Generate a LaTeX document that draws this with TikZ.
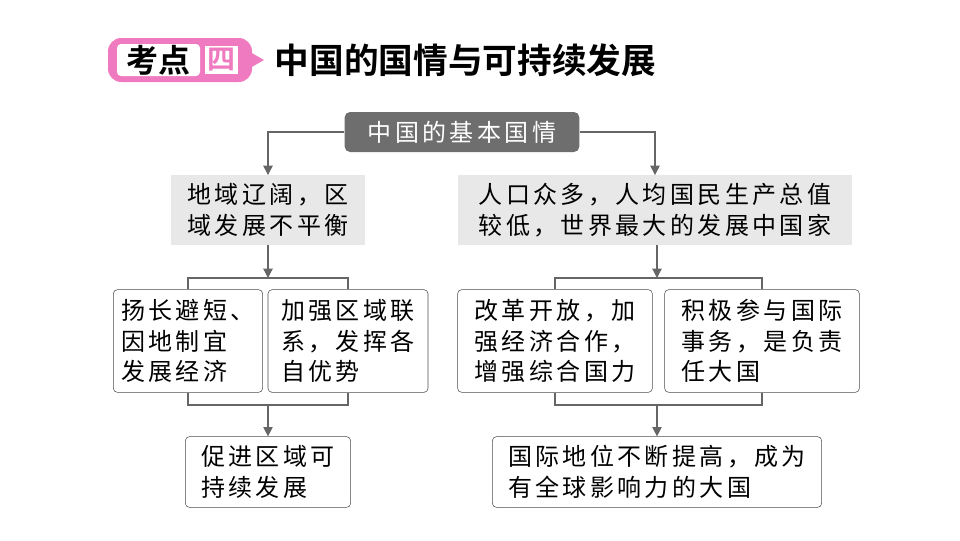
\documentclass[tikz,border=0pt]{standalone}
\usepackage{fontspec}
\setmainfont{Noto Sans CJK SC}[LetterSpace=14]
\newfontfamily\headfont{Noto Sans CJK SC}[BoldFont={* Bold}]
\usetikzlibrary{arrows.meta}
\definecolor{topgray}{HTML}{6E6E6E}
\definecolor{boxgray}{HTML}{E8E8E8}
\definecolor{headpink}{HTML}{F07AC0}
\tikzset{
  item/.style={draw=black!70,rounded corners=3pt,align=left,font=\fontsize{18}{23}\selectfont,inner sep=0pt},
  gbox/.style={fill=boxgray,align=left,font=\fontsize{18}{23}\selectfont,inner sep=0pt},
  conn/.style={draw=black!60,line width=0.9pt},
  arr/.style={conn,-{Triangle[length=7pt,width=7pt]}}
}
\begin{document}
\begin{tikzpicture}[x=0.75pt,y=-0.75pt]
\useasboundingbox (0,0) rectangle (960,540);
% header
\fill[headpink,rounded corners=10pt] (108,38) rectangle (252,82);
\fill[headpink] (250,52) -- (264,60) -- (250,68) -- cycle;
\fill[white,rounded corners=3pt] (117,44) rectangle (200,76);
\fill[white] (205,46) rectangle (238,74);
\node[font=\headfont\bfseries\fontsize{24}{24}\selectfont] (kd) at (158,60) {考点};
\node[font=\headfont\bfseries\fontsize{21}{21}\selectfont,text=headpink] (num) at (221,60) {四};
\node[anchor=west,font=\headfont\bfseries\fontsize{26}{26}\selectfont] (title) at (270,60) {中国的国情与可持续发展};
% top
\node[fill=topgray,rounded corners=4pt,text=white,minimum width=176pt,minimum height=30pt,font=\fontsize{18}{18}\selectfont] (top) at (462,132) {中国的基本国情};
\node[gbox,minimum width=146pt,minimum height=52pt] (l1) at (268,210) {地域辽阔，区\\域发展不平衡};
\node[gbox,minimum width=296pt,minimum height=52pt] (r1) at (655,210) {人口众多，人均国民生产总值\\较低，世界最大的发展中国家};
\draw[arr] (top.west) -| (l1.north);
\draw[arr] (top.east) -| (r1.north);
% left branch
\node[item,minimum width=112pt,minimum height=77pt] (la) at (188,341) {扬长避短、\\因地制宜\\发展经济};
\node[item,minimum width=120pt,minimum height=77pt] (lb) at (348,341) {加强区域联\\系，发挥各\\自优势};
\coordinate (ltop) at (268,278);
\coordinate (lbot) at (268,405);
\draw[arr] (l1.south) -- (ltop);
\draw[conn] (la.north) |- (ltop) -| (lb.north);
\draw[conn] (la.south) |- (lbot) -| (lb.south);
\node[item,minimum width=124pt,minimum height=53pt] (lc) at (268,472) {促进区域可\\持续发展};
\draw[arr] (lbot) -- (lc.north);
% right branch
\node[item,minimum width=146pt,minimum height=77pt] (ra) at (555,341) {改革开放，加\\强经济合作，\\增强综合国力};
\node[item,minimum width=146pt,minimum height=77pt] (rb) at (762,341) {积极参与国际\\事务，是负责\\任大国};
\coordinate (rtop) at (657,278);
\coordinate (rbot) at (657,405);
\draw[arr] (r1.south -| rtop) -- (rtop);
\draw[conn] (ra.north) |- (rtop) -| (rb.north);
\draw[conn] (ra.south) |- (rbot) -| (rb.south);
\node[item,minimum width=247pt,minimum height=53pt] (rc) at (657,472) {国际地位不断提高，成为\\有全球影响力的大国};
\draw[arr] (rbot) -- (rc.north);
\end{tikzpicture}
\end{document}
